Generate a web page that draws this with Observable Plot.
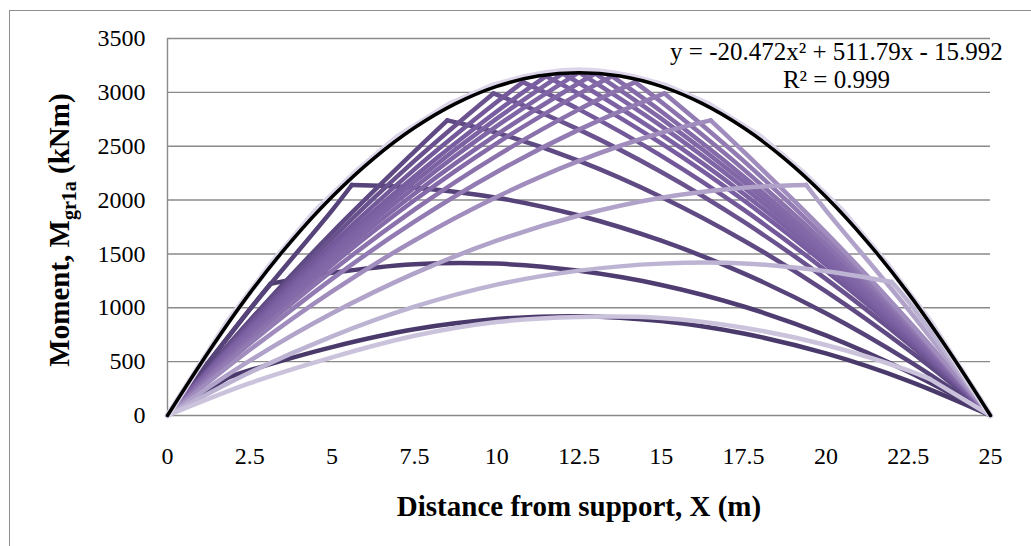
<!DOCTYPE html>
<html><head><meta charset="utf-8">
<script src="https://cdn.jsdelivr.net/npm/d3@7"></script>
<script src="https://cdn.jsdelivr.net/npm/@observablehq/plot@0.6"></script>
<style>
html,body{margin:0;padding:0;background:#fff;overflow:hidden}
#wrap{position:relative;width:1031px;height:546px}
#border{position:absolute;left:9px;top:10px;width:1100px;height:700px;border:1px solid #8e8e8e;pointer-events:none}
</style></head><body><div id="wrap"><div id="border"></div></div>
<script>
// x positions (m) where every moment diagram is read
const xGrid = [0, 2.5, 5, 7.5, 10, 12.5, 15, 17.5, 20, 22.5, 25];
// position of the tandem (kink / peak of each diagram) and moment there (kNm)
const loadPositions = [1.85, 3.13, 5.6, 8.5, 9.9, 10.8, 11.5, 12.0, 12.5, 13.0, 13.5, 14.2, 15.1, 16.5, 19.4, 22.0, 23.15];
const peakMoments   = [355, 1223, 2140, 2740, 2990, 3095, 3150, 3175, 3185, 3175, 3150, 3095, 2990, 2740, 2140, 1240, 340];
// moments at xGrid for each load position (kNm)
const m01 = [0, 420, 635, 800, 895, 922, 877, 761, 576, 322, 0];
const m02 = [0, 985, 1324, 1405, 1410, 1343, 1212, 1012, 744, 406, 0];
const m03 = [0, 985, 1905, 2115, 2022, 1857, 1623, 1320, 949, 509, 0];
const m04 = [0, 883, 1698, 2450, 2625, 2364, 2029, 1625, 1152, 610, 0];
const m05 = [0, 857, 1645, 2364, 2979, 2654, 2261, 1799, 1268, 668, 0];
const m06 = [0, 831, 1592, 2285, 2910, 2842, 2411, 1911, 1343, 706, 0];
const m07 = [0, 809, 1548, 2219, 2822, 2986, 2526, 1998, 1400, 735, 0];
const m08 = [0, 792, 1515, 2170, 2756, 3087, 2607, 2059, 1441, 755, 0];
const m09 = [0, 775, 1480, 2117, 2686, 3185, 2686, 2117, 1480, 775, 0];
const m10 = [0, 755, 1441, 2059, 2607, 3087, 2756, 2170, 1515, 792, 0];
const m11 = [0, 735, 1400, 1998, 2526, 2986, 2822, 2219, 1548, 809, 0];
const m12 = [0, 706, 1343, 1911, 2411, 2842, 2910, 2285, 1592, 831, 0];
const m13 = [0, 668, 1268, 1799, 2261, 2654, 2979, 2364, 1645, 857, 0];
const m14 = [0, 610, 1152, 1625, 2029, 2364, 2625, 2450, 1698, 883, 0];
const m15 = [0, 509, 949, 1320, 1623, 1857, 2022, 2115, 1905, 985, 0];
const m16 = [0, 400, 735, 1010, 1215, 1345, 1410, 1412, 1340, 1060, 0];
const m17 = [0, 300, 540, 740, 868, 915, 905, 815, 655, 420, 0];
const seriesValues = [m01, m02, m03, m04, m05, m06, m07, m08, m09, m10, m11, m12, m13, m14, m15, m16, m17];
// envelope of maxima
const envelopeX = [0, 1.85, 3.13, 4.5, 5.7, 7, 8.6, 9.9, 10.8, 11.5, 12, 12.5, 13, 13.5, 14.2, 15.1, 16.4, 18, 19.3, 20.5, 21.87, 23.15, 25];
const envelopeM = [0, 880, 1400, 1900, 2255, 2590, 2895, 3065, 3140, 3180, 3198, 3205, 3198, 3180, 3140, 3065, 2895, 2590, 2255, 1900, 1400, 880, 0];
// polynomial trend line y = -20.472x² + 511.79x - 15.992, sampled
const trendX = [0, 1.25, 2.5, 3.75, 5, 6.25, 7.5, 8.75, 10, 11.25, 12.5, 13.75, 15, 16.25, 17.5, 18.75, 20, 21.25, 22.5, 23.75, 25];
const trendM = [0, 592, 1136, 1615, 2031, 2383, 2671, 2895, 3055, 3151, 3183, 3151, 3055, 2895, 2671, 2383, 2031, 1615, 1136, 592, 0];
const xTicks = [0, 2.5, 5, 7.5, 10, 12.5, 15, 17.5, 20, 22.5, 25];
const yTicks = [0, 500, 1000, 1500, 2000, 2500, 3000, 3500];
const eqText = "y = -20.472x\u00b2 + 511.79x - 15.992\nR\u00b2 = 0.999";
const xTitle = "Distance from support, X (m)";
const yTitle = "Moment, Mgr1a (kNm)";

const colors = ["#4a3a6b","#4f3d71","#564379","#5f4a84","#6a528f","#735999","#785ea0","#7c62a3","#7f65a5","#8267a7","#856aa9","#8b72ad","#927bb3","#a08cbd","#b0a2c9","#bdb3d3","#cbc2dc"];

// each diagram split at the load position into a rising and a falling branch
const series = seriesValues.map((vals, i) => {
  const a = loadPositions[i];
  const peak = {x: a, m: peakMoments[i]};
  const pts = xGrid.map((x, j) => ({x, m: vals[j]}));
  const left = pts.filter(p => p.x < a).map(p => ({...p, part: 0}));
  const right = pts.filter(p => p.x > a).map(p => ({...p, part: 1}));
  return [...left, {...peak, part: 0}, {...peak, part: 1}, ...right];
});
const envelope = envelopeX.map((x, i) => ({x, m: envelopeM[i]}));
const trend = trendX.map((x, i) => ({x, m: trendM[i]}));

const font = "'Liberation Serif','Times New Roman',serif";
const chart = Plot.plot({
  width: 1031, height: 546,
  marginLeft: 167, marginRight: 41, marginTop: 38, marginBottom: 131,
  style: {fontFamily: font, background: "transparent", overflow: "visible", color: "#000"},
  x: {domain: [0, 25]},
  y: {domain: [0, 3500]},
  marks: [
    Plot.gridY(yTicks, {stroke: "#8a8a8a", strokeOpacity: 1, strokeWidth: 1.4}),
    Plot.ruleX([0], {stroke: "#8a8a8a", strokeWidth: 1.4}),
    Plot.axisY(yTicks, {tickSize: 0, tickPadding: 22, fontSize: 24, label: null, tickFormat: d => String(d)}),
    Plot.axisX(xTicks, {tickSize: 0, tickPadding: 31, fontSize: 24, label: null, tickFormat: d => String(d)}),
    ...series.map((pts, i) => Plot.line(pts, {x: "x", y: "m", z: "part", stroke: colors[i], strokeWidth: 4.5, curve: "catmull-rom", strokeLinecap: "round"})),
    Plot.line(envelope, {x: "x", y: "m", stroke: "#ddd6ea", strokeWidth: 6}),
    Plot.line(trend, {x: "x", y: "m", stroke: "#000", strokeWidth: 3.5, curve: "catmull-rom"}),
    Plot.text([eqText], {x: () => 20.32, y: () => 3045, text: d => d, textAnchor: "middle", lineAnchor: "bottom", lineHeight: 1.12, fontSize: 25, fill: "#000"}),
    Plot.text([xTitle], {frameAnchor: "bottom", dy: 100, lineAnchor: "bottom", textAnchor: "middle", text: d => d, fontSize: 29, fontWeight: "bold", fill: "#000"}),
    Plot.text([yTitle], {frameAnchor: "left", dx: -99, dy: 3, rotate: -90, lineAnchor: "bottom", textAnchor: "middle", text: d => d, fontSize: 29, fontWeight: "bold", fill: "#000"})
  ]
});
document.getElementById("wrap").prepend(chart);
// subscript in y title
d3.select(chart).selectAll("text").filter(function() { return this.textContent === yTitle; }).each(function() {
  const t = d3.select(this);
  t.text(null);
  t.append("tspan").text("Moment, M");
  t.append("tspan").attr("font-size", "20px").attr("dy", "7").text("gr1a");
  t.append("tspan").attr("dy", "-7").text(" (kNm)");
});
</script></body></html>
